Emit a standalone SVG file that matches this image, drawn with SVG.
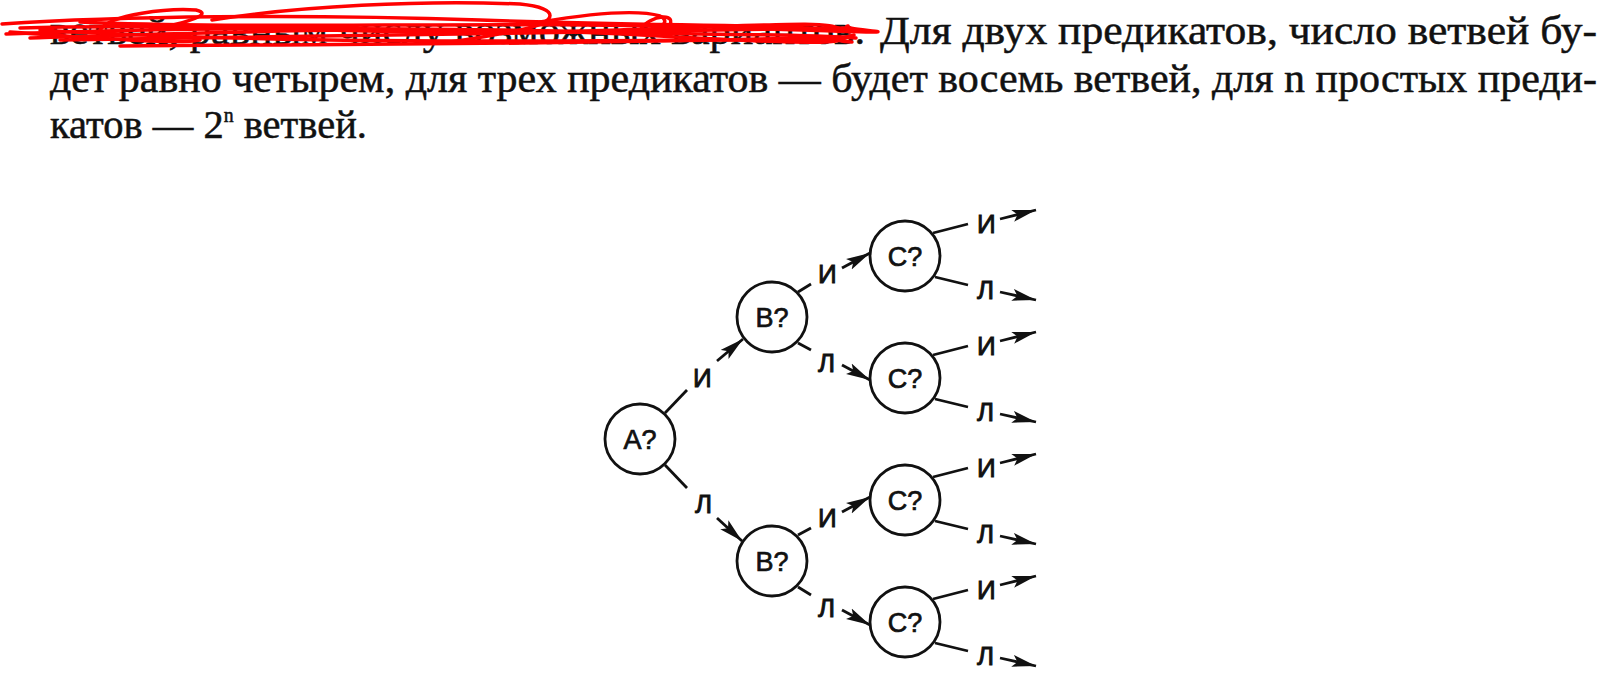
<svg xmlns="http://www.w3.org/2000/svg" width="1609" height="687" viewBox="0 0 1609 687">
<style>
.body{font-family:"Liberation Serif","DejaVu Serif",serif;font-size:41px;fill:#111;stroke:#111;stroke-width:0.5}
.node circle{fill:#fff;stroke:#111;stroke-width:2.8}
.node text{font-family:"Liberation Sans",Arial,sans-serif;font-size:27px;fill:#111;stroke:#111;stroke-width:0.7;text-anchor:middle}
.lbl{font-family:"Liberation Sans",Arial,sans-serif;font-size:26px;fill:#111;stroke:#111;stroke-width:0.9}
.edges line{stroke:#111;stroke-width:2.8;fill:none}
.arr{marker-end:url(#ah)}
.scrib path{fill:none;stroke:#ff0000;stroke-width:3.5;stroke-linecap:round;stroke-linejoin:round}
</style>
<defs>
<marker id="ah" markerUnits="userSpaceOnUse" markerWidth="26" markerHeight="14" refX="24" refY="6.5" orient="auto">
<path d="M0,0.5 L24,6.5 L0,12.5 L5,6.5 z" fill="#111"/>
</marker>
</defs>
<rect width="1609" height="687" fill="#fff"/>
<g id="paragraph">
<text class="body" x="50" y="44" textLength="815" lengthAdjust="spacingAndGlyphs">ветвей, равным числу возможных вариантов.</text>
<text class="body" x="880" y="44" textLength="717" lengthAdjust="spacingAndGlyphs">Для двух предикатов, число ветвей бу-</text>
<text class="body" x="50" y="92" textLength="1547" lengthAdjust="spacingAndGlyphs">дет равно четырем, для трех предикатов — будет восемь ветвей, для n простых преди-</text>
<text class="body" x="50" y="138" textLength="317" lengthAdjust="spacingAndGlyphs">катов — 2<tspan font-size="20" dy="-16">n</tspan><tspan dy="16"> ветвей.</tspan></text>
</g>
<g id="strike" class="scrib">
<path d="M2,24 C120,16 300,14 480,20 S760,24 852,30"/>
<path d="M6,34 C200,26 420,28 600,32 S800,34 856,38"/>
<path d="M40,30 C240,42 520,42 700,40 S820,40 852,42"/>
<path d="M60,40 C260,36 480,34 850,28"/>
<path d="M20,28 C200,22 400,38 620,30 S820,22 850,32"/>
<path d="M30,38 C220,32 450,24 660,36 S830,40 854,35"/>
<path d="M80,22 C260,30 500,20 740,28 S830,30 848,26"/>
<path d="M100,30 C110,14 170,8 196,10 C214,14 190,22 150,30"/>
<path d="M212,20 C300,6 420,0 520,4 C560,8 560,22 520,30 C480,38 440,44 444,42"/>
<path d="M540,22 C600,12 640,10 660,16 C672,22 660,30 640,32"/>
<path d="M640,30 C650,14 680,12 668,28"/>
<path d="M120,46 C300,44 500,46 850,37"/>
<path d="M10,32 C120,40 180,44 200,40"/>
</g>
<g id="edges" class="edges">
<line x1="665" y1="413" x2="687" y2="390"/>
<line class="arr" x1="717" y1="361" x2="743" y2="339"/>
<line x1="665" y1="465" x2="687" y2="488"/>
<line class="arr" x1="717" y1="518" x2="742" y2="541"/>
<line x1="798" y1="292" x2="811" y2="284"/>
<line class="arr" x1="842" y1="268" x2="870" y2="253"/>
<line x1="798" y1="343" x2="811" y2="350"/>
<line class="arr" x1="842" y1="365" x2="870" y2="380"/>
<line x1="798" y1="535" x2="811" y2="528"/>
<line class="arr" x1="842" y1="512" x2="870" y2="497"/>
<line x1="798" y1="587" x2="811" y2="595"/>
<line class="arr" x1="842" y1="610" x2="870" y2="625"/>
<line x1="933" y1="233" x2="968" y2="224"/>
<line class="arr" x1="1000" y1="219" x2="1036" y2="210"/>
<line x1="935" y1="277" x2="968" y2="285"/>
<line class="arr" x1="1000" y1="292" x2="1036" y2="300"/>
<line x1="933" y1="355" x2="968" y2="346"/>
<line class="arr" x1="1000" y1="341" x2="1036" y2="332"/>
<line x1="935" y1="399" x2="968" y2="407"/>
<line class="arr" x1="1000" y1="414" x2="1036" y2="422"/>
<line x1="933" y1="477" x2="968" y2="468"/>
<line class="arr" x1="1000" y1="463" x2="1036" y2="454"/>
<line x1="935" y1="521" x2="968" y2="529"/>
<line class="arr" x1="1000" y1="536" x2="1036" y2="544"/>
<line x1="933" y1="599" x2="968" y2="590"/>
<line class="arr" x1="1000" y1="585" x2="1036" y2="576"/>
<line x1="935" y1="643" x2="968" y2="651"/>
<line class="arr" x1="1000" y1="658" x2="1036" y2="666"/>
</g>
<g id="edge-labels">
<text class="lbl" x="693" y="387">И</text>
<text class="lbl" x="695" y="513">Л</text>
<text class="lbl" x="818" y="283">И</text>
<text class="lbl" x="818" y="372">Л</text>
<text class="lbl" x="818" y="527">И</text>
<text class="lbl" x="818" y="617">Л</text>
<text class="lbl" x="977" y="233">И</text>
<text class="lbl" x="977" y="299">Л</text>
<text class="lbl" x="977" y="355">И</text>
<text class="lbl" x="977" y="421">Л</text>
<text class="lbl" x="977" y="477">И</text>
<text class="lbl" x="977" y="543">Л</text>
<text class="lbl" x="977" y="599">И</text>
<text class="lbl" x="977" y="665">Л</text>
</g>
<g id="nodeA" class="node"><circle cx="640" cy="439" r="35"/><text x="640" y="449">A?</text></g>
<g id="nodeB1" class="node"><circle cx="772" cy="317" r="35"/><text x="772" y="327">B?</text></g>
<g id="nodeB2" class="node"><circle cx="772" cy="561" r="35"/><text x="772" y="571">B?</text></g>
<g id="nodeC1" class="node"><circle cx="905" cy="256" r="35"/><text x="905" y="266">C?</text></g>
<g id="nodeC2" class="node"><circle cx="905" cy="378" r="35"/><text x="905" y="388">C?</text></g>
<g id="nodeC3" class="node"><circle cx="905" cy="500" r="35"/><text x="905" y="510">C?</text></g>
<g id="nodeC4" class="node"><circle cx="905" cy="622" r="35"/><text x="905" y="632">C?</text></g>
</svg>
